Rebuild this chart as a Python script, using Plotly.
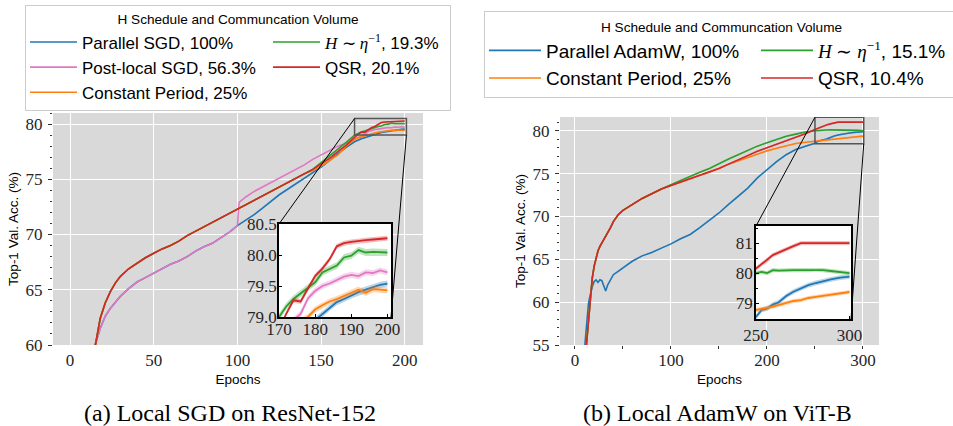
import plotly.graph_objects as go

W, H = 953, 426

# ---------------- (a) Local SGD on ResNet-152 ----------------
EPOCHS_A = [12, 15, 18, 21, 24, 27, 30,
            35, 40, 45, 50, 55, 60, 65, 70, 75, 80, 85, 90, 95, 100,
            101,
            105, 110, 115, 120, 125, 130, 135, 140, 145, 150, 155, 160, 165, 170,
            172, 174, 176, 178, 180, 182, 184, 186, 188, 190, 192, 194, 196, 198, 200]

PARALLEL_A = [57.8, 60.0, 61.5, 62.6, 63.3, 63.9, 64.4,
              65.1, 65.7, 66.1, 66.5, 66.9, 67.3, 67.6, 68.0, 68.5, 68.9, 69.2, 69.7, 70.2, 70.8,
              70.9,
              71.3, 71.8, 72.4, 73.0, 73.6, 74.1, 74.6, 75.1, 75.6, 76.1, 76.7, 77.3, 77.9, 78.4,
              78.55, 78.66, 78.76, 78.86, 78.95, 79.05, 79.15, 79.24, 79.29, 79.35, 79.40, 79.44, 79.48, 79.52, 79.54]

POSTLOCAL_A = [57.8, 60.0, 61.5, 62.6, 63.3, 63.9, 64.4,
               65.1, 65.7, 66.1, 66.5, 66.9, 67.3, 67.6, 68.0, 68.5, 68.9, 69.2, 69.7, 70.2, 70.8,
               72.9,
               73.4, 73.9, 74.3, 74.7, 75.1, 75.5, 75.9, 76.3, 76.8, 77.2, 77.6, 78.0, 78.25, 78.6,
               78.8, 78.95, 79.05, 79.3, 79.42, 79.50, 79.54, 79.60, 79.65, 79.68, 79.66, 79.72, 79.71, 79.75, 79.72]

CONSTANT_A = [57.4, 60.0, 62.4, 63.8, 64.8, 65.6, 66.2,
              66.9, 67.4, 67.9, 68.3, 68.7, 69.0, 69.4, 69.9, 70.3, 70.7, 71.1, 71.5, 71.9, 72.3,
              72.4,
              72.7, 73.1, 73.5, 73.9, 74.3, 74.7, 75.1, 75.5, 75.8, 76.2, 76.7, 77.2, 78.0, 78.6,
              78.75, 78.85, 78.93, 79.0, 79.12, 79.19, 79.25, 79.29, 79.34, 79.40, 79.44, 79.39, 79.45, 79.44, 79.43]

HETA_A = [57.4, 60.0, 62.4, 63.8, 64.8, 65.6, 66.2,
          66.9, 67.4, 67.9, 68.3, 68.7, 69.0, 69.4, 69.9, 70.3, 70.7, 71.1, 71.5, 71.9, 72.3,
          72.4,
          72.7, 73.1, 73.5, 73.9, 74.3, 74.7, 75.1, 75.5, 75.9, 76.5, 77.1, 77.7, 78.35, 79.0,
          79.17, 79.29, 79.38, 79.48, 79.56, 79.72, 79.78, 79.83, 79.96, 79.99, 80.08, 80.04, 80.05, 80.04, 80.04]

QSR_A = [57.4, 60.0, 62.4, 63.8, 64.8, 65.6, 66.2,
         66.9, 67.4, 67.9, 68.3, 68.7, 69.0, 69.4, 69.9, 70.3, 70.7, 71.1, 71.5, 71.9, 72.3,
         72.4,
         72.7, 73.1, 73.5, 73.9, 74.3, 74.7, 75.1, 75.5, 75.9, 76.4, 76.9, 77.5, 78.1, 78.8,
         79.05, 79.27, 79.25, 79.46, 79.66, 79.78, 79.93, 80.14, 80.19, 80.21, 80.23, 80.24, 80.25, 80.26, 80.27]

# spread (std) of each run
STD_A = {"par": 0.05, "post": 0.05, "const": 0.05, "heta": 0.055, "qsr": 0.04}

# ---------------- (b) Local AdamW on ViT-B ----------------
EPOCHS_B = [8, 10, 12, 13, 14, 15, 16, 17, 18,
            20, 22, 24, 26, 28, 30, 32, 34,
            37, 40, 45, 50, 55, 60,
            70, 80, 90, 100, 110, 120, 130, 140, 150, 160, 170, 180, 190, 200, 210, 220, 230, 240, 250,
            253, 256, 259, 262,
            266, 270, 274, 278, 282, 286, 290,
            295, 300]

PARALLEL_B = [52.0, 54.5, 57.7, 59.0, 59.8, 60.4, 60.9, 61.4, 61.8,
              62.4, 62.6, 62.3, 62.6, 62.5, 61.8, 61.3, 62.0,
              62.6, 63.2, 63.6, 64.0, 64.4, 64.8,
              65.4, 65.8, 66.3, 66.8, 67.4, 67.9, 68.7, 69.5, 70.4, 71.4, 72.3, 73.3, 74.5, 75.5, 76.4, 77.2, 77.8, 78.2, 78.54,
              78.77, 78.82, 78.95, 79.02,
              79.23, 79.38, 79.50, 79.60, 79.67, 79.74, 79.79,
              79.85, 79.88]

CONSTANT_B = [50.0, 52.5, 55.2, 56.8, 58.3, 59.6, 60.7, 61.8, 62.8,
              64.2, 65.3, 66.0, 66.5, 66.9, 67.3, 67.6, 68.0,
              68.7, 69.4, 70.2, 70.7, 71.1, 71.4,
              72.1, 72.7, 73.2, 73.6, 74.0, 74.4, 74.8, 75.15, 75.6, 76.1, 76.5, 76.9, 77.3, 77.65, 77.95, 78.25, 78.5, 78.65, 78.77,
              78.79, 78.85, 78.88, 78.93,
              79.0, 79.07, 79.10, 79.17, 79.21, 79.25, 79.28,
              79.33, 79.37]

HETA_B = [50.0, 52.5, 55.2, 56.8, 58.3, 59.6, 60.7, 61.8, 62.8,
          64.2, 65.3, 66.0, 66.5, 66.9, 67.3, 67.6, 68.0,
          68.7, 69.4, 70.2, 70.7, 71.1, 71.4,
          72.1, 72.7, 73.2, 73.7, 74.2, 74.7, 75.15, 75.6, 76.2, 76.7, 77.2, 77.7, 78.2, 78.6, 79.0, 79.35, 79.6, 79.85, 80.0,
          80.04, 80.0, 80.1, 80.08,
          80.1, 80.1, 80.1, 80.1, 80.12, 80.1, 80.07,
          80.04, 80.0]

QSR_B = [50.0, 52.5, 55.2, 56.8, 58.3, 59.6, 60.7, 61.8, 62.8,
         64.2, 65.3, 66.0, 66.5, 66.9, 67.3, 67.6, 68.0,
         68.7, 69.4, 70.2, 70.7, 71.1, 71.4,
         72.1, 72.7, 73.2, 73.6, 74.0, 74.4, 74.8, 75.15, 75.6, 76.1, 76.6, 77.1, 77.6, 78.0, 78.4, 78.8, 79.2, 79.65, 80.15,
         80.3, 80.42, 80.6, 80.68,
         80.8, 80.9, 81.0, 81.0, 81.0, 81.0, 81.0,
         81.0, 81.0]

STD_B = {"par": 0.08, "const": 0.07, "heta": 0.07, "qsr": 0.07}

# ---------------- labels ----------------
LEGEND_TITLE = "H Schedule and Communcation Volume"
CAPTION_A = "(a) Local SGD on ResNet-152"
CAPTION_B = "(b) Local AdamW on ViT-B"
X_TITLE = "Epochs"
Y_TITLE = "Top-1 Val. Acc. (%)"

COLORS = {"par": "#1f77b4", "post": "#e377c2", "const": "#ff7f0e", "heta": "#2ca02c", "qsr": "#d62728"}


def rgba(hexc, a):
    h = hexc.lstrip("#")
    return "rgba(%d,%d,%d,%.2f)" % (int(h[0:2], 16), int(h[2:4], 16), int(h[4:6], 16), a)


def math_label(pct):
    return ('<span style="font-family:Liberation Serif"><i>H</i> ∼ <i>η</i><sup>−1</sup></span>, %s' % pct)


# (key, legend text, values, legend column, entry width)
SERIES_A = [
    ("par", "Parallel SGD, 100%", PARALLEL_A, "a1", 181),
    ("post", "Post-local SGD, 56.3%", POSTLOCAL_A, "a1", 181),
    ("const", "Constant Period, 25%", CONSTANT_A, "a1", 181),
    ("heta", math_label("19.3%"), HETA_A, "a2", 120),
    ("qsr", "QSR, 20.1%", QSR_A, "a2", 120),
]
SERIES_B = [
    ("par", "Parallel AdamW, 100%", PARALLEL_B, "b1", 205),
    ("const", "Constant Period, 25%", CONSTANT_B, "b1", 205),
    ("heta", math_label("15.1%"), HETA_B, "b2", 135),
    ("qsr", "QSR, 10.4%", QSR_B, "b2", 135),
]

# axis ranges
RANGE_AX = [-10.2, 210.9]
RANGE_AY = [60, 81]
RANGE_BX = [-15.6, 316.7]
RANGE_BY = [55, 81.6]
INSET_AX = [170, 201]
INSET_AY = [79.0, 80.5]
INSET_BX = [250, 300.8]
INSET_BY = [78.47, 81.57]


def dom_x(p0, p1):
    return [p0 / W, p1 / W]


def dom_y(top, bottom):
    return [1 - bottom / H, 1 - top / H]


DOM = {
    "x": dom_x(53, 423), "y": dom_y(113, 345),
    "x2": dom_x(560, 879), "y2": dom_y(117, 345),
    "x3": dom_x(279, 391), "y3": dom_y(224, 317),
    "x4": dom_x(756, 851), "y4": dom_y(226, 319),
}

fig = go.Figure()


def add_series(series, epochs, std, xa, ya, legend, lw, show):
    for key, name, vals, grp, ew in series:
        s = std[key]
        up = [v + s for v in vals]
        lo = [v - s for v in vals]
        fig.add_trace(go.Scatter(x=epochs + epochs[::-1], y=up + lo[::-1], fill="toself",
                                 fillcolor=rgba(COLORS[key], 0.3), line=dict(width=0),
                                 hoverinfo="skip", showlegend=False, xaxis=xa, yaxis=ya))
        fig.add_trace(go.Scatter(x=epochs, y=vals, mode="lines", name=name,
                                 line=dict(color=COLORS[key], width=lw),
                                 legendgroup=grp, legend=legend, showlegend=show, legendwidth=ew,
                                 xaxis=xa, yaxis=ya))


add_series(SERIES_A, EPOCHS_A, STD_A, "x", "y", "legend", 1.6, True)
add_series(SERIES_B, EPOCHS_B, STD_B, "x2", "y2", "legend2", 1.6, True)
add_series(SERIES_A, EPOCHS_A, STD_A, "x3", "y3", "legend", 1.8, False)
add_series(SERIES_B, EPOCHS_B, STD_B, "x4", "y4", "legend2", 1.8, False)

SERIF = "Liberation Serif"
SANS = "Liberation Sans"
tickfont = dict(family=SERIF, size=17, color="#262626")
axtitle_font = dict(family=SANS, size=13.5, color="black")

main_common = dict(showgrid=True, gridcolor="white", gridwidth=1.3, zeroline=False,
                   showline=False, tickfont=tickfont)
inset_common = dict(showgrid=False, zeroline=False, showline=True, mirror=True, linecolor="black",
                    linewidth=1.5, ticks="inside", ticklen=3, tickcolor="black", tickfont=tickfont)

title_txt = '<span style="font-size:13.6px">%s</span>' % LEGEND_TITLE

fig.update_layout(
    width=W, height=H,
    margin=dict(l=0, r=0, t=0, b=0, autoexpand=False),
    paper_bgcolor="white", plot_bgcolor="#d9d9d9",
    xaxis=dict(domain=DOM["x"], range=RANGE_AX, anchor="y", tickvals=[0, 50, 100, 150, 200],
               ticks="", ticklabelstandoff=3,
               title=dict(text=X_TITLE, font=axtitle_font, standoff=5),
               **main_common),
    yaxis=dict(domain=DOM["y"], range=RANGE_AY, anchor="x", dtick=5, ticks="outside", ticklen=4,
               tickcolor="#333", ticklabelstandoff=2,
               minor=dict(dtick=1, ticks="outside", ticklen=2, tickcolor="#333", showgrid=False),
               title=dict(text=Y_TITLE, font=axtitle_font, standoff=3),
               **main_common),
    xaxis2=dict(domain=DOM["x2"], range=RANGE_BX, anchor="y2", tickvals=[0, 100, 200, 300],
                ticks="", ticklabelstandoff=3,
                minor=dict(dtick=50, ticks="outside", ticklen=3, tickcolor="#333", showgrid=False),
                title=dict(text=X_TITLE, font=axtitle_font, standoff=5),
                **main_common),
    yaxis2=dict(domain=DOM["y2"], range=RANGE_BY, anchor="x2", dtick=5, ticks="outside", ticklen=4,
                tickcolor="#333", ticklabelstandoff=2,
                minor=dict(dtick=1, ticks="outside", ticklen=2, tickcolor="#333", showgrid=False),
                title=dict(text=Y_TITLE, font=axtitle_font, standoff=3),
                **main_common),
    xaxis3=dict(domain=DOM["x3"], range=INSET_AX, anchor="y3", tickvals=[170, 180, 190, 200],
                ticklabelstandoff=-4, **inset_common),
    yaxis3=dict(domain=DOM["y3"], range=INSET_AY, anchor="x3", tickvals=[79.0, 79.5, 80.0, 80.5],
                tickformat=".1f", ticklabelstandoff=-3, **inset_common),
    xaxis4=dict(domain=DOM["x4"], range=INSET_BX, anchor="y4", tickvals=[250, 300],
                **inset_common),
    yaxis4=dict(domain=DOM["y4"], range=INSET_BY, anchor="x4", tickvals=[79, 80, 81],
                ticklabelstandoff=-2,
                minor=dict(dtick=0.5, ticks="inside", ticklen=2, tickcolor="black", showgrid=False),
                **inset_common),
    legend=dict(x=25 / W, y=1 - 5 / H, xanchor="left", yanchor="top", orientation="h",
                traceorder="grouped", bgcolor="white", bordercolor="#cccccc", borderwidth=1,
                font=dict(family=SANS, size=17, color="black"),
                title=dict(text=title_txt, side="top center", font=dict(family=SANS, size=14.2, color="black")),
                itemwidth=47, entrywidthmode="pixels"),
    legend2=dict(x=484 / W, y=1 - 11 / H, xanchor="left", yanchor="top", orientation="h",
                 traceorder="grouped", bgcolor="white", bordercolor="#cccccc", borderwidth=1,
                 font=dict(family=SANS, size=19, color="black"),
                 title=dict(text=title_txt, side="top center", font=dict(family=SANS, size=15, color="black")),
                 itemwidth=52, entrywidthmode="pixels"),
)


def to_paper(axis_dom, axis_rng, v):
    d0, d1 = axis_dom
    r0, r1 = axis_rng
    return d0 + (v - r0) / (r1 - r0) * (d1 - d0)


shapes = []
for (mx, my, ix, iy, rx, ry, irx, iry) in [
    ("x", "y", "x3", "y3", RANGE_AX, RANGE_AY, INSET_AX, INSET_AY),
    ("x2", "y2", "x4", "y4", RANGE_BX, RANGE_BY, INSET_BX, INSET_BY),
]:
    # white background of the inset
    shapes.append(dict(type="rect", xref=ix, yref=iy, x0=irx[0], x1=irx[1], y0=iry[0], y1=iry[1],
                       fillcolor="white", line=dict(width=0), layer="below"))
    # zoom rectangle in the main axes
    shapes.append(dict(type="rect", xref=mx, yref=my, x0=irx[0], x1=irx[1], y0=iry[0], y1=iry[1],
                       line=dict(color="#555555", width=1.5), fillcolor="rgba(0,0,0,0)"))
    # connectors: upper-left corners and lower-right corners
    for cx, cy in [(irx[0], iry[1]), (irx[1], iry[0])]:
        shapes.append(dict(type="line", xref="paper", yref="paper",
                           x0=to_paper(DOM[mx], rx, cx), y0=to_paper(DOM[my], ry, cy),
                           x1=to_paper(DOM[ix], irx, cx), y1=to_paper(DOM[iy], iry, cy),
                           line=dict(color="black", width=1)))
fig.update_layout(shapes=shapes)

fig.add_annotation(text=CAPTION_A, xref="paper", yref="paper", x=230 / W, y=1 - 413 / H,
                   xanchor="center", yanchor="middle",
                   showarrow=False, font=dict(family=SERIF, size=24, color="black"))
fig.add_annotation(text=CAPTION_B, xref="paper", yref="paper", x=717 / W, y=1 - 413 / H,
                   xanchor="center", yanchor="middle",
                   showarrow=False, font=dict(family=SERIF, size=24, color="black"))

# the page is photographed from its top-left corner: drop the default body margin
fig.write_html("out.html", config={"displayModeBar": False},
               post_script="document.body.style.margin='0px';")
